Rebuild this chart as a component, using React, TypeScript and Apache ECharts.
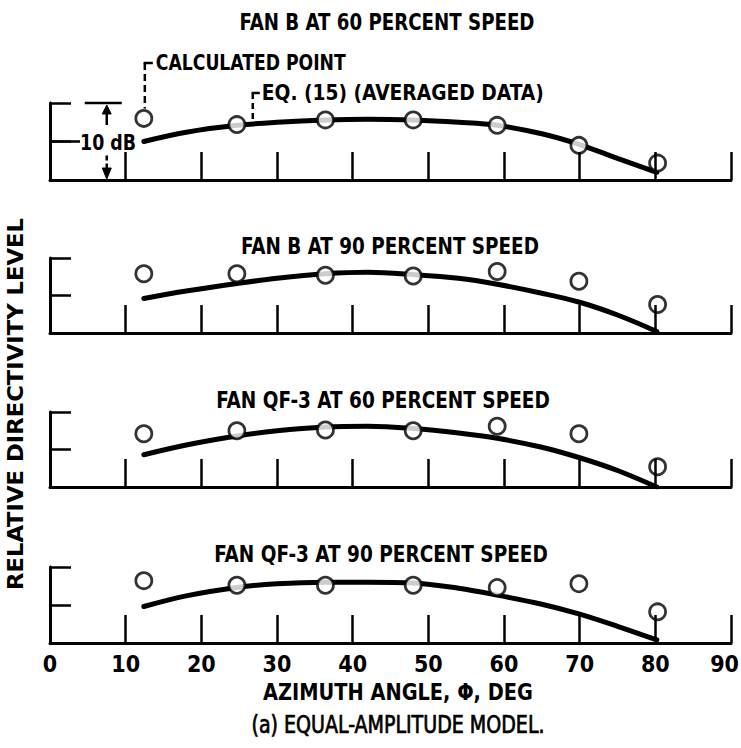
import React, { useEffect, useRef } from "react";
import * as echarts from "echarts";

// ---- data ----
const POINT_ANGLES = [12.4, 24.7, 36.4, 48.0, 59.1, 69.9, 80.3];
const CURVE_ANGLES = [12.4, 18, 24.7, 30, 36.4, 42, 48, 54, 59.1, 65, 70, 75, 80.2];

const PANEL_TITLES = [
  "FAN B AT 60 PERCENT SPEED",
  "FAN B AT 90 PERCENT SPEED",
  "FAN QF-3 AT 60 PERCENT SPEED",
  "FAN QF-3 AT 90 PERCENT SPEED",
];

const POINTS_B60 = [8.0, 7.2, 7.8, 7.8, 7.1, 4.5, 2.2];
const POINTS_B90 = [7.9, 7.9, 7.7, 7.6, 8.2, 6.9, 3.8];
const POINTS_Q60 = [7.1, 7.5, 7.6, 7.5, 8.1, 7.1, 2.7];
const POINTS_Q90 = [8.2, 7.6, 7.6, 7.6, 7.3, 7.8, 4.1];

const CURVE_B60 = [5.0, 6.2, 7.1, 7.5, 7.8, 7.9, 7.8, 7.5, 7.1, 6.0, 4.6, 2.8, 1.0];
const CURVE_B90 = [4.6, 5.6, 6.6, 7.3, 7.9, 8.1, 7.8, 7.3, 6.5, 5.3, 4.1, 2.4, 0.2];
const CURVE_Q60 = [4.3, 5.6, 6.8, 7.5, 8.0, 8.1, 7.8, 7.2, 6.5, 5.3, 3.9, 2.2, 0.0];
const CURVE_Q90 = [4.8, 6.2, 7.3, 7.8, 8.0, 8.0, 7.9, 7.2, 6.3, 5.1, 3.8, 2.2, 0.4];

const X_MIN = 0;
const X_MAX = 90;
const X_STEP = 10;
const Y_MIN = 0;
const Y_MAX = 10;
const Y_STEP = 5;

const X_TITLE = "AZIMUTH ANGLE, \u03A6, DEG";
const Y_TITLE = "RELATIVE DIRECTIVITY LEVEL";
const CAPTION = "(a) EQUAL-AMPLITUDE MODEL.";
const NOTE_POINT = "CALCULATED POINT";
const NOTE_EQ = "EQ. (15) (AVERAGED DATA)";
const NOTE_SCALE = "10 dB";

const ALL_POINTS = [POINTS_B60, POINTS_B90, POINTS_Q60, POINTS_Q90];
const ALL_CURVES = [CURVE_B60, CURVE_B90, CURVE_Q60, CURVE_Q90];

// ---- layout ----
const W = 741;
const H = 748;
const GRID_TOPS = [103, 258, 412, 567];
const GRID_HEIGHTS = [77, 75, 75, 76];
const GRID_LEFT = 50;
const GRID_RIGHT = 10;
const FONT = '"Liberation Sans Narrow", "DejaVu Sans Condensed", "Arial Narrow", sans-serif';

let measureCtx: CanvasRenderingContext2D | null = null;
function measure(text: string, size: number, weight: string) {
  if (!measureCtx) measureCtx = document.createElement("canvas").getContext("2d");
  if (!measureCtx) return text.length * size * 0.5;
  measureCtx.font = `${weight} ${size}px ${FONT}`;
  return measureCtx.measureText(text).width;
}

function ctext(
  text: string,
  x: number,
  y: number,
  width: number,
  size: number,
  weight = "bold",
  align = "center",
  rotation = 0,
  strokeW = 0
) {
  const w = measure(text, size, weight);
  return {
    type: "text",
    x,
    y,
    rotation,
    scaleX: width / w,
    z: 20,
    style: {
      text,
      fontSize: size,
      fontWeight: weight,
      fontFamily: FONT,
      fill: "#000",
      stroke: strokeW > 0 ? "#000" : null,
      lineWidth: strokeW,
      textAlign: align,
      textVerticalAlign: "middle",
      align,
      verticalAlign: "middle",
    },
  };
}

function seg(x1: number, y1: number, x2: number, y2: number, w = 2.5, dash?: number[]) {
  return {
    type: "line",
    z: 20,
    shape: { x1, y1, x2, y2 },
    style: { stroke: "#000", lineWidth: w, lineDash: dash || null, lineCap: "butt" },
  };
}

function tri(points: number[][]) {
  return { type: "polygon", z: 20, shape: { points }, style: { fill: "#000", stroke: "#000", lineWidth: 1 } };
}

export default function App() {
  const ref = useRef<HTMLDivElement>(null);

  useEffect(() => {
    if (!ref.current) return;
    const chart = echarts.init(ref.current, undefined, { renderer: "svg", width: W, height: H });

    const grids = GRID_TOPS.map((top, i) => ({
      left: GRID_LEFT,
      right: GRID_RIGHT,
      top,
      height: GRID_HEIGHTS[i],
      containLabel: false,
      outerBoundsMode: "none",
    }));

    const labelStyle = { fontSize: 23, fontWeight: "bold", fontFamily: FONT, color: "#000" };

    const xAxes = GRID_TOPS.map((_, i) => ({
      gridIndex: i,
      type: "value",
      min: X_MIN,
      max: X_MAX,
      interval: X_STEP,
      z: 5,
      axisLine: { show: true, onZero: false, lineStyle: { color: "#000", width: 3 } },
      axisTick: { show: true, inside: true, length: 28, lineStyle: { color: "#000", width: 2.5 } },
      axisLabel: {
        show: i === 3,
        margin: 9,
        ...labelStyle,
        alignMaxLabel: "right",
        formatter: (v: number) => (v === X_MAX ? `{end|${v}}` : `${v}`),
        rich: { end: { ...labelStyle, padding: [0, -8, 0, 0] } },
      },
      splitLine: { show: false },
    }));

    const yAxes = GRID_TOPS.map((_, i) => ({
      gridIndex: i,
      type: "value",
      min: Y_MIN,
      max: Y_MAX,
      interval: Y_STEP,
      z: 5,
      axisLine: { show: true, onZero: false, lineStyle: { color: "#000", width: 3 } },
      axisTick: { show: true, inside: true, length: 21, lineStyle: { color: "#000", width: 2.5 } },
      axisLabel: { show: false },
      splitLine: { show: false },
    }));

    const series: any[] = [];
    ALL_CURVES.forEach((curve, i) => {
      series.push({
        type: "line",
        name: "EQ. (15) " + PANEL_TITLES[i],
        xAxisIndex: i,
        yAxisIndex: i,
        data: CURVE_ANGLES.map((a, k) => [a, curve[k]]),
        smooth: 0.35,
        symbol: "none",
        showSymbol: false,
        lineStyle: { color: "#000", width: 5, cap: "round" },
        z: 2,
        silent: true,
      });
      series.push({
        type: "scatter",
        name: "Calculated " + PANEL_TITLES[i],
        xAxisIndex: i,
        yAxisIndex: i,
        data: POINT_ANGLES.map((a, k) => [a, ALL_POINTS[i][k]]),
        symbol: "circle",
        symbolSize: 16,
        itemStyle: { color: "#fff", borderColor: "#000", borderWidth: 2.8 },
        z: 3,
        silent: true,
      });
    });

    chart.setOption({
      animation: false,
      backgroundColor: "#fff",
      grid: grids,
      xAxis: xAxes,
      yAxis: yAxes,
      series,
    });

    const px = (g: number, x: number, y: number) =>
      chart.convertToPixel({ gridIndex: g } as any, [x, y]) as number[];

    const graphics: any[] = [];
    const titleCenters = [
      [387, 22, 295],
      [390, 246, 298],
      [383, 400, 334],
      [381, 554, 334],
    ];
    PANEL_TITLES.forEach((t, i) => {
      const [cx, cy, w] = titleCenters[i];
      graphics.push(ctext(t, cx, cy, w, 23, "bold"));
    });

    graphics.push(ctext(X_TITLE, 398, 692, 270, 23, "bold"));
    graphics.push(ctext(CAPTION, 398, 725, 293, 24, "normal", "center", 0, 0.7));
    graphics.push(ctext(Y_TITLE, 16, 404, 372, 22, "bold", "center", Math.PI / 2));

    const top = px(0, 0, Y_MAX);
    const mid = px(0, 0, 5);
    const base = px(0, 0, 0);
    const arrowX = px(0, 7.5, 0)[0];
    graphics.push(seg(top[0], mid[1], top[0] + 30, mid[1], 2.5));
    graphics.push(seg(arrowX - 22, top[1], arrowX + 15, top[1], 2.5));
    graphics.push(seg(arrowX, top[1] + 8, arrowX, top[1] + 22, 2.5));
    graphics.push(tri([[arrowX, top[1] + 2], [arrowX - 4.5, top[1] + 11], [arrowX + 4.5, top[1] + 11]]));
    graphics.push(seg(arrowX, mid[1] + 14, arrowX, base[1] - 10, 2.5, [5, 3]));
    graphics.push(tri([[arrowX, base[1] - 1], [arrowX - 4.5, base[1] - 12], [arrowX + 4.5, base[1] - 12]]));
    graphics.push(ctext(NOTE_SCALE, top[0] + 58, mid[1] + 1, 56, 21, "bold"));

    const cp = px(0, POINT_ANGLES[0], POINTS_B60[0]);
    const cpx = cp[0] + 1;
    graphics.push(seg(cpx, 63, cpx, cp[1] - 10, 2.5, [7, 4]));
    graphics.push(seg(cpx - 1.2, 63, cpx + 8, 63, 2.5));
    graphics.push(ctext(NOTE_POINT, cpx + 11, 63, 190, 21, "bold", "left"));

    const eq = px(0, 26.8, 7.3);
    graphics.push(seg(eq[0], 93, eq[0], eq[1] - 3, 2.5, [6, 4]));
    graphics.push(seg(eq[0] - 1.2, 93, eq[0] + 7, 93, 2.5));
    graphics.push(ctext(NOTE_EQ, eq[0] + 9, 93, 282, 21, "bold", "left"));

    chart.setOption({ graphic: { elements: graphics } });

    return () => chart.dispose();
  }, []);

  return (
    <div
      ref={ref}
      style={{ position: "fixed", left: 0, top: 0, width: W, height: H, background: "#fff" }}
    />
  );
}
